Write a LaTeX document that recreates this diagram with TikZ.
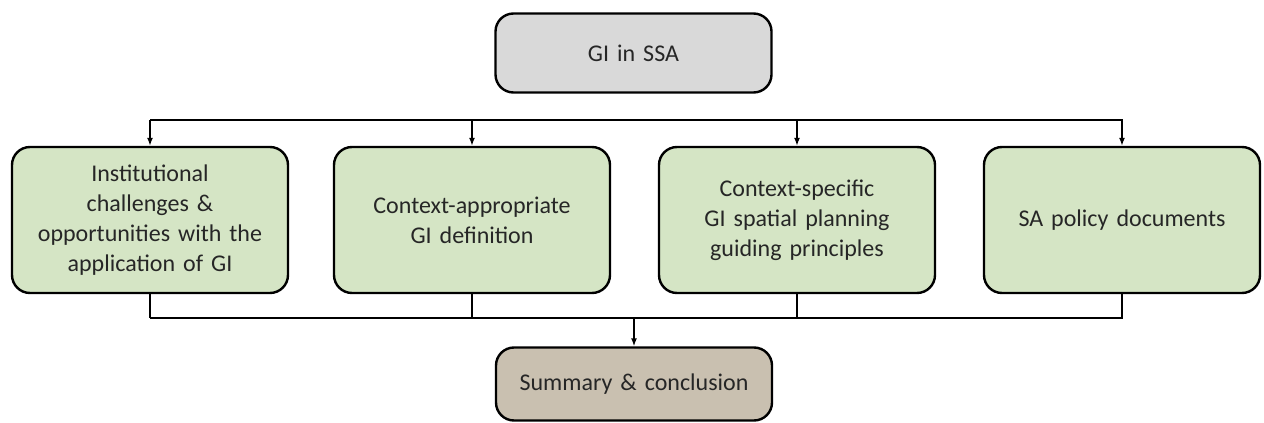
\documentclass[tikz,border=0pt]{standalone}
\usepackage{fontspec}
\setmainfont{Carlito}
\usetikzlibrary{arrows.meta}
\definecolor{boxgreen}{HTML}{D5E5C5}
\definecolor{boxgray}{HTML}{D9D9D9}
\definecolor{boxtan}{HTML}{C9C0B0}
\definecolor{inktext}{HTML}{262626}
\tikzset{
  box/.style={draw=black, line width=2.4pt, rounded corners=18pt,
    minimum width=276pt, text width=250pt, align=center,
    font=\fontsize{24}{30}\selectfont, text=inktext, inner sep=0pt},
  greenbox/.style={box, fill=boxgreen, minimum height=146pt},
  graybox/.style={box, fill=boxgray, minimum height=79pt},
  tanbox/.style={box, fill=boxtan, minimum height=73pt},
  link/.style={line width=1.5pt, draw=black},
  linkarrow/.style={link, -{Latex[length=8pt,width=6pt]}}
}
\begin{document}
\begin{tikzpicture}[x=1pt,y=-1pt]
\useasboundingbox (0,0) rectangle (1264,423);
% title box
\node[graybox] (top) at (633.5,53) {GI in SSA};
% the four themes
\node[greenbox] (g1) at (150,220) {Institutional\\challenges \&\\opportunities with the\\application of GI};
\node[greenbox] (g2) at (472,220) {Context-appropriate\\GI definition};
\node[greenbox] (g3) at (797,220) {Context-specific\\GI spatial planning\\guiding principles};
\node[greenbox] (g4) at (1122,220) {SA policy documents};
% closing box
\node[tanbox] (bot) at (634,384) {Summary \& conclusion};
% distribution bus above the themes
\coordinate (busL) at (150,120);
\coordinate (busR) at (1123,120);
\draw[link] (busL) -- (busR);
\foreach \n in {g1,g2,g3,g4}
  \draw[linkarrow] (\n.north |- busL) -- (\n.north);
% collecting bus below the themes
\coordinate (colL) at (150,318);
\coordinate (colR) at (1123,318);
\draw[link] (colL) -- (colR);
\foreach \n in {g1,g2,g3,g4}
  \draw[link] (\n.south) -- (\n.south |- colL);
\draw[linkarrow] (bot.north |- colL) -- (bot.north);
\end{tikzpicture}
\end{document}
